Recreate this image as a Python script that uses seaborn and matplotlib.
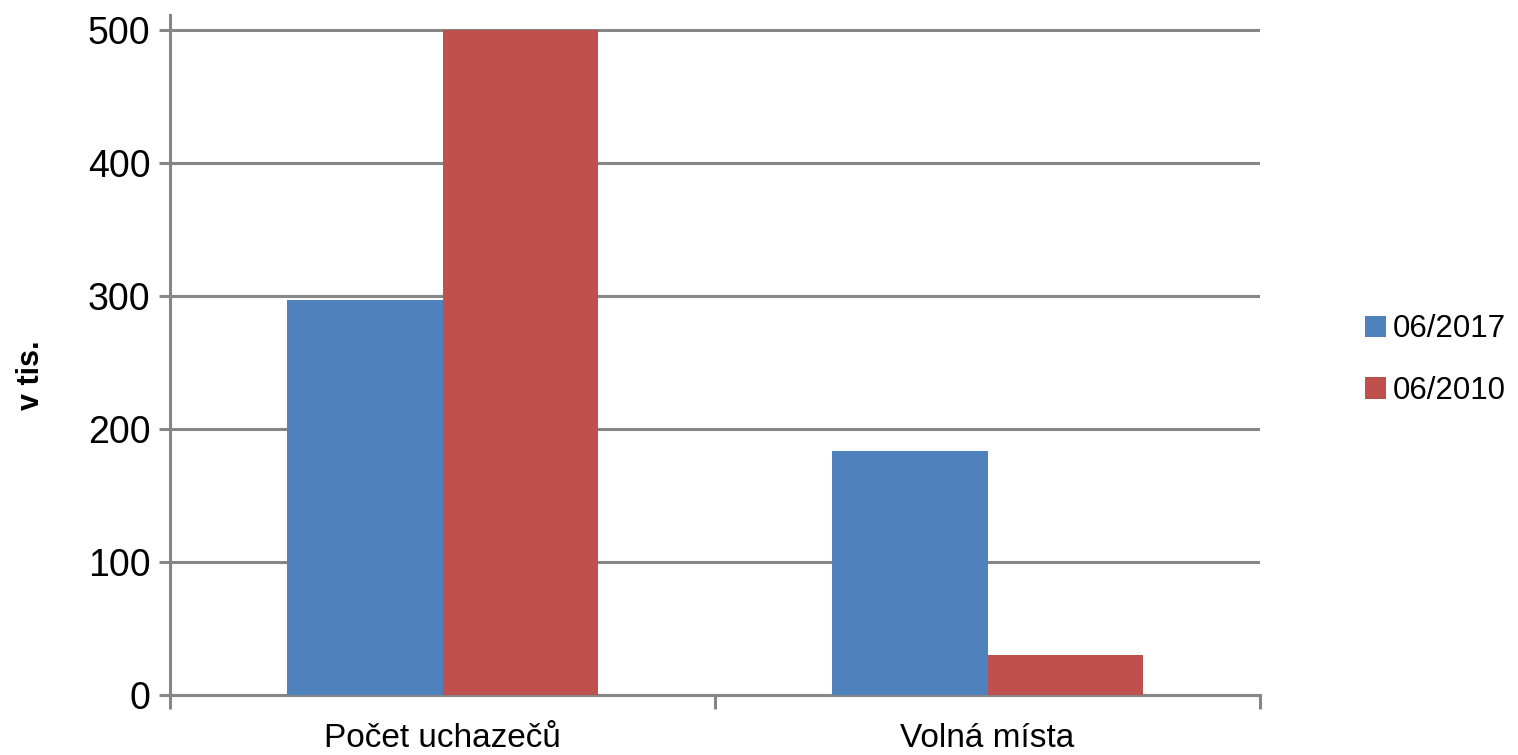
import matplotlib
matplotlib.use("Agg")
import matplotlib.pyplot as plt
import seaborn as sns
import pandas as pd

categories = ["Počet uchazečů", "Volná místa"]
series = ["06/2017", "06/2010"]
values_2017 = [296.5, 183.5]
values_2010 = [500, 30]
yticks = [0, 100, 200, 300, 400, 500]

df = pd.DataFrame({
    "kategorie": categories * 2,
    "obdobi": [series[0]] * 2 + [series[1]] * 2,
    "hodnota": values_2017 + values_2010,
})

sns.set_theme(style="white")
plt.rcParams["font.family"] = ["Liberation Sans", "DejaVu Sans"]
plt.rcParams["text.color"] = "black"
plt.rcParams["axes.labelcolor"] = "black"
plt.rcParams["xtick.labelcolor"] = "black"
plt.rcParams["ytick.labelcolor"] = "black"

fig = plt.figure(figsize=(15.18, 7.55), dpi=100)
ax = fig.add_axes([170 / 1518, 1 - 695 / 755, (1260 - 170) / 1518, (695 - 15) / 755])

palette = {series[0]: "#4F81BD", series[1]: "#C0504D"}
sns.barplot(data=df, x="kategorie", y="hodnota", hue="obdobi", hue_order=series,
            order=categories, palette=palette, width=0.57, saturation=1,
            linewidth=0, ax=ax, zorder=3)

ax.set_xlim(-0.5, 1.5)
ax.set_ylim(0, 510.9)
ax.set_yticks(yticks)
ax.set_yticklabels([str(v) for v in yticks], fontsize=27)
ax.yaxis.grid(True, color="#868686", linewidth=2.2)
ax.set_axisbelow(True)

for s in ["top", "right"]:
    ax.spines[s].set_visible(False)
for s in ["left", "bottom"]:
    ax.spines[s].set_color("#868686")
    ax.spines[s].set_linewidth(2.2)

ax.tick_params(axis="y", which="major", left=True, length=8, width=2.2,
               color="#868686", pad=6)
ax.set_xticks([0, 1])
ax.set_xticklabels(categories, fontsize=24)
ax.tick_params(axis="x", which="major", length=0, pad=20)
ax.set_xticks([-0.5, 0.5, 1.5], minor=True)
ax.tick_params(axis="x", which="minor", bottom=True, length=10, width=2.2,
               color="#868686")

ax.set_xlabel("")
ax.set_ylabel("v tis.", fontsize=22, fontweight="bold")
ax.yaxis.set_label_coords(-0.114, 0.47)

handles, labels = ax.get_legend_handles_labels()
ax.legend(handles, labels, loc="center left", bbox_to_anchor=(1352 / 1518, 1 - 360 / 755),
          bbox_transform=fig.transFigure, frameon=False, fontsize=22.5,
          handlelength=0.7, handleheight=0.7, handletextpad=0.2,
          labelspacing=1.0, borderaxespad=0)

fig.savefig("out.png", dpi=100)
